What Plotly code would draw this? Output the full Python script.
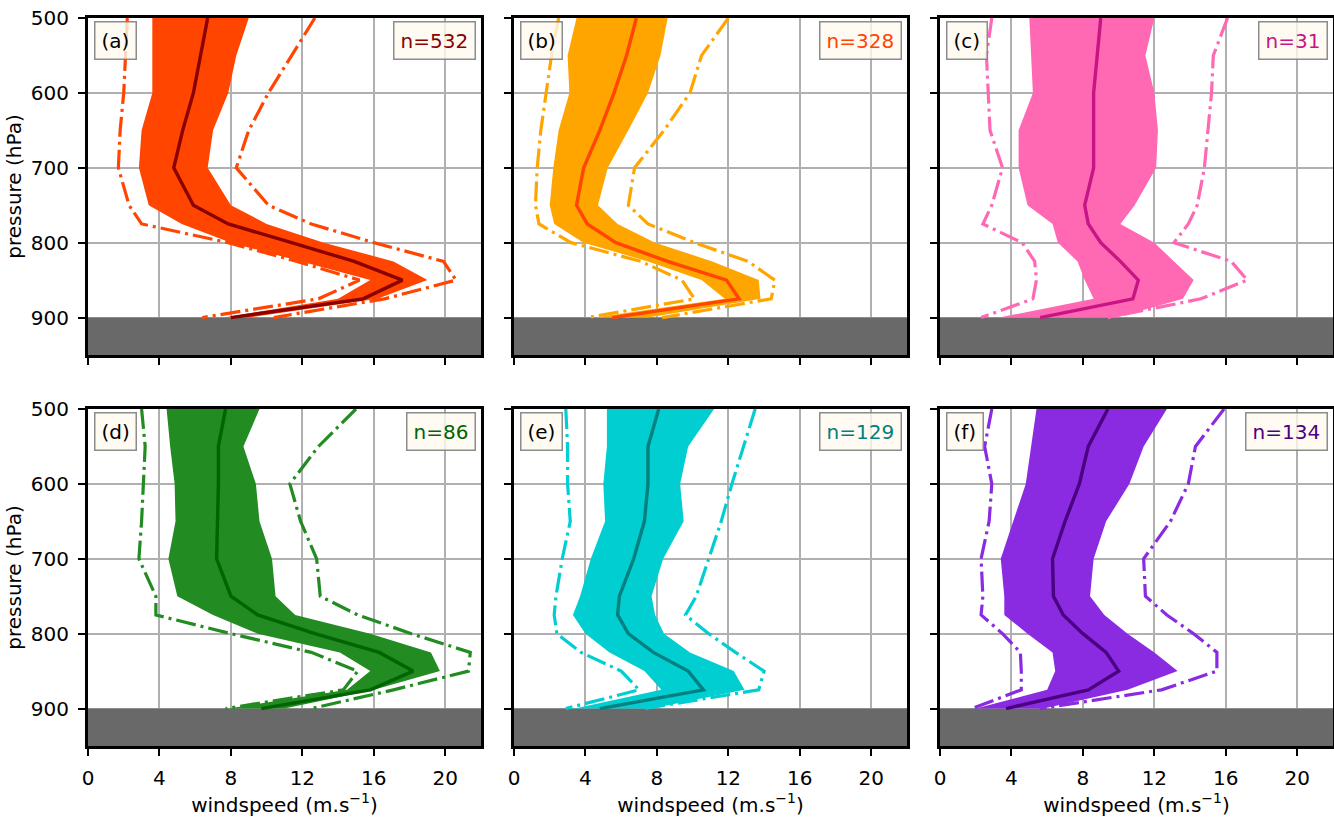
import plotly.graph_objects as go

# ---------------- data ----------------
P = [500, 550, 600, 650, 700, 750, 775, 800, 825, 850, 875, 900]
x_ticks = [0, 4, 8, 12, 16, 20]
y_ticks = [500, 600, 700, 800, 900]
panel_labels = ["(a)", "(b)", "(c)", "(d)", "(e)", "(f)"]
n_labels = ["n=532", "n=328", "n=31", "n=86", "n=129", "n=134"]

a_med = [6.7, 6.3, 5.9, 5.3, 4.8, 5.9, 7.85, 11.4, 14.9, 17.6, 15.4, 8.0]
a_q1 = [3.6, 3.6, 3.6, 3.0, 2.85, 3.4, 5.25, 8.0, 11.9, 15.8, 14.0, 7.6]
a_q3 = [9.0, 8.3, 7.85, 7.0, 6.7, 8.0, 10.0, 13.2, 17.1, 19.0, 16.2, 9.0]
a_p10 = [2.2, 2.1, 2.0, 1.8, 1.7, 2.3, 3.0, 7.85, 11.7, 15.2, 12.9, 6.4]
a_p90 = [12.7, 11.4, 10.1, 9.0, 8.3, 10.1, 12.5, 16.0, 19.9, 20.6, 16.6, 10.4]

b_med = [6.85, 6.3, 5.6, 4.8, 3.9, 3.5, 4.1, 5.7, 8.6, 11.9, 12.6, 5.5]
b_q1 = [3.5, 3.0, 3.1, 2.5, 2.2, 2.0, 2.25, 3.9, 7.5, 10.5, 11.8, 4.5]
b_q3 = [8.6, 8.2, 7.5, 6.4, 5.25, 4.7, 5.8, 7.9, 11.1, 13.7, 13.8, 7.5]
b_p10 = [2.5, 2.1, 1.8, 1.5, 1.3, 1.2, 1.4, 3.2, 7.1, 9.4, 10.1, 4.1]
b_p90 = [12.0, 10.5, 9.85, 8.4, 6.75, 6.4, 7.5, 10.1, 13.1, 14.6, 14.4, 8.3]

c_med = [9.0, 8.8, 8.6, 8.6, 8.6, 8.1, 8.3, 9.0, 10.1, 11.1, 10.8, 5.6]
c_q1 = [5.0, 5.1, 5.2, 4.4, 4.4, 4.9, 6.3, 6.6, 7.7, 8.1, 8.6, 3.3]
c_q3 = [12.0, 11.5, 12.0, 12.2, 12.1, 10.9, 10.1, 12.0, 13.1, 14.2, 13.6, 9.9]
c_p10 = [2.9, 2.6, 2.7, 2.8, 3.5, 2.9, 2.4, 4.6, 5.3, 5.4, 5.2, 2.3]
c_p90 = [16.1, 15.3, 15.2, 15.0, 14.8, 14.4, 13.9, 13.1, 16.3, 17.2, 14.6, 9.4]

d_med = [7.7, 7.3, 7.3, 7.25, 7.2, 8.0, 9.5, 12.7, 16.3, 18.2, 15.8, 9.7]
d_q1 = [4.4, 4.6, 4.85, 4.9, 4.5, 5.0, 7.0, 9.5, 14.1, 15.8, 14.5, 7.85]
d_q3 = [9.6, 8.7, 9.4, 9.6, 10.3, 10.5, 11.6, 15.8, 19.2, 19.7, 16.0, 11.0]
d_p10 = [3.0, 3.2, 3.1, 3.0, 2.85, 3.8, 3.8, 8.0, 12.5, 15.1, 14.3, 7.7]
d_p90 = [15.0, 12.9, 11.3, 11.9, 12.8, 13.0, 15.1, 18.1, 21.4, 21.3, 17.1, 12.5]

e_med = [8.1, 7.5, 7.5, 7.3, 6.7, 5.9, 5.8, 6.4, 7.8, 9.75, 10.6, 4.8]
e_q1 = [5.2, 5.2, 5.0, 5.1, 4.3, 3.7, 3.3, 4.0, 5.35, 7.3, 8.25, 3.4]
e_q3 = [11.2, 9.75, 9.3, 9.5, 8.35, 7.7, 7.9, 8.4, 9.85, 12.3, 12.9, 7.7]
e_p10 = [2.9, 3.0, 3.0, 3.15, 2.7, 2.35, 2.25, 2.4, 3.75, 6.0, 7.0, 2.9]
e_p90 = [13.5, 12.85, 12.2, 11.6, 10.9, 10.2, 9.6, 10.9, 12.4, 14.0, 13.7, 7.3]

f_med = [9.4, 8.3, 7.8, 7.0, 6.3, 6.35, 6.9, 8.0, 9.3, 10.0, 8.3, 3.7]
f_q1 = [5.4, 5.1, 4.8, 4.1, 3.4, 3.6, 3.6, 4.9, 6.3, 6.45, 6.0, 2.0]
f_q3 = [12.7, 11.4, 10.6, 9.3, 8.6, 8.4, 9.2, 10.5, 12.0, 13.3, 10.5, 5.8]
f_p10 = [2.9, 2.5, 2.9, 2.75, 2.3, 2.4, 2.3, 3.5, 4.5, 4.55, 4.55, 1.8]
f_p90 = [15.9, 14.3, 13.9, 12.9, 11.4, 11.5, 12.7, 14.2, 15.5, 15.5, 12.4, 5.6]

band_colors = ["#FF4500", "#FFA500", "#FF69B4", "#228B22", "#00CED1", "#8A2BE2"]
median_colors = ["#8B0000", "#FF4500", "#C71585", "#006400", "#008080", "#4B0082"]

panels = [
    (a_med, a_q1, a_q3, a_p10, a_p90),
    (b_med, b_q1, b_q3, b_p10, b_p90),
    (c_med, c_q1, c_q3, c_p10, c_p90),
    (d_med, d_q1, d_q3, d_p10, d_p90),
    (e_med, e_q1, e_q3, e_p10, e_p90),
    (f_med, f_q1, f_q3, f_p10, f_p90),
]

# ---------------- layout geometry ----------------
W, H = 1334, 822
col_px = [(88, 481), (514, 907), (940, 1333)]
row_px = [(18, 355), (409, 746)]
FONT = "DejaVu Sans"

fig = go.Figure()
layout = dict(
    width=W, height=H, margin=dict(l=0, r=0, t=0, b=0),
    paper_bgcolor="white", plot_bgcolor="white", showlegend=False,
    font=dict(family=FONT, size=20, color="black"),
)
shapes, annotations = [], []

for i, (med, q1, q3, p10, p90) in enumerate(panels):
    r, c = divmod(i, 3)
    k = i + 1
    xa = "x" if k == 1 else f"x{k}"
    ya = "y" if k == 1 else f"y{k}"
    xkey = "xaxis" if k == 1 else f"xaxis{k}"
    ykey = "yaxis" if k == 1 else f"yaxis{k}"

    # IQR band
    fig.add_trace(go.Scatter(
        x=list(q1) + list(q3)[::-1], y=P + P[::-1], xaxis=xa, yaxis=ya,
        mode="lines", fill="toself", fillcolor=band_colors[i],
        line=dict(width=0, color=band_colors[i]), hoverinfo="skip"))
    # 10th / 90th percentile dash-dot lines
    for vals in (p10, p90):
        fig.add_trace(go.Scatter(
            x=vals, y=P, xaxis=xa, yaxis=ya, mode="lines",
            line=dict(color=band_colors[i], width=3.2, dash="20px,5px,3px,5px")))
    # median
    fig.add_trace(go.Scatter(
        x=med, y=P, xaxis=xa, yaxis=ya, mode="lines",
        line=dict(color=median_colors[i], width=3.4)))

    x0, x1 = col_px[c]
    y0, y1 = row_px[r]
    common = dict(
        showgrid=True, gridcolor="#b0b0b0", gridwidth=2.2, zeroline=False,
        showline=True, mirror=True, linecolor="black", linewidth=3,
        ticks="outside", ticklen=7, tickwidth=2.4, tickcolor="black",
        tickfont=dict(family=FONT, size=20, color="black"), automargin=False,
    )
    xdict = dict(
        common, domain=[x0 / W, x1 / W], anchor=ya, range=[0, 22],
        tickvals=x_ticks, showticklabels=(r == 1), ticklabelstandoff=5,
    )
    if r == 1:
        xdict["title"] = dict(text="windspeed (m.s<sup>−1</sup>)",
                              font=dict(family=FONT, size=20), standoff=9)
    ydict = dict(
        common, domain=[1 - y1 / H, 1 - y0 / H], anchor=xa, range=[950, 500],
        tickvals=y_ticks, showticklabels=(c == 0), ticklabelstandoff=5,
    )
    if c == 0:
        ydict["title"] = dict(text="pressure (hPa)",
                              font=dict(family=FONT, size=20), standoff=4)
    layout[xkey] = xdict
    layout[ykey] = ydict

    shapes.append(dict(
        type="rect", xref=xa, yref=ya, x0=0, x1=22, y0=900, y1=950,
        fillcolor="#696969", line=dict(width=0), layer="between"))

    box = dict(bgcolor="rgba(255,250,240,0.8)", bordercolor="rgba(128,128,128,0.9)",
               borderwidth=1.5, borderpad=6, showarrow=False,
               xref=f"{xa} domain", yref=f"{ya} domain", yanchor="top", y=0.99)
    annotations.append(dict(box, text=panel_labels[i], x=0.015, xanchor="left",
                            font=dict(family=FONT, size=20, color="black")))
    annotations.append(dict(box, text=n_labels[i], x=0.988, xanchor="right",
                            font=dict(family=FONT, size=20, color=median_colors[i])))

layout["shapes"] = shapes
layout["annotations"] = annotations
fig.update_layout(**layout)
fig.write_html("out.html")
